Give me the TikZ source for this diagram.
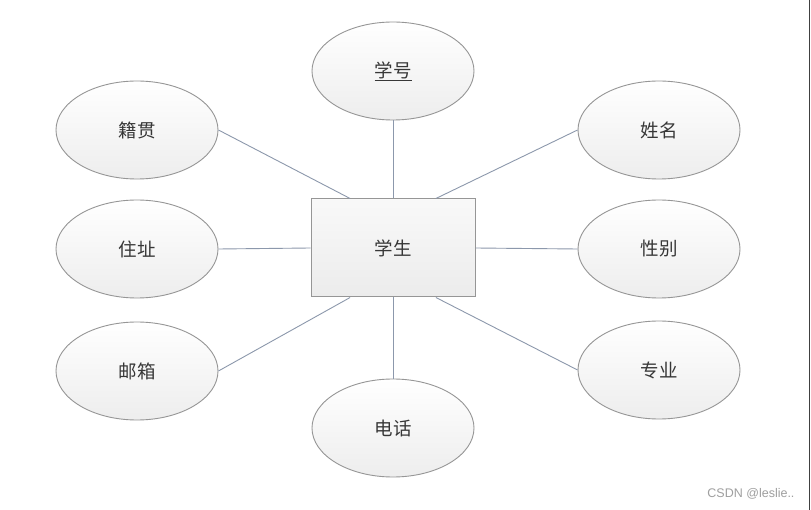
\documentclass[tikz,border=0pt]{standalone}
\usepackage{fontspec}
\setmainfont{Liberation Sans}
\newfontfamily\cjk{Noto Sans CJK SC}
\usetikzlibrary{shapes.geometric,calc}
\definecolor{edgeline}{RGB}{140,152,172}
\definecolor{txt}{RGB}{55,55,55}
\definecolor{bordergray}{RGB}{150,150,150}
\tikzset{
  attr/.style={ellipse, draw=bordergray, line width=0.9pt, top color=white, bottom color=gray!14,
    minimum width=162pt, minimum height=98pt, inner sep=0pt,
    font=\cjk\fontsize{18.5}{20}\selectfont, text=txt},
  entity/.style={rectangle, draw=bordergray, line width=1pt, top color=gray!5, bottom color=gray!15,
    minimum width=164pt, minimum height=98pt, inner sep=0pt,
    font=\cjk\fontsize{18.5}{20}\selectfont, text=txt},
  conn/.style={draw=edgeline, line width=0.9pt}
}
\begin{document}
\begin{tikzpicture}[x=1pt,y=-1pt]
\fill[white] (0,0) rectangle (811,510);
\useasboundingbox (0,0) rectangle (811,510);
\node[entity] (s) at (393,248) {学生};
\node[attr] (xh) at (393,71) {\underline{学号}};
\node[attr] (jg) at (137,130) {籍贯};
\node[attr] (xm) at (659,130) {姓名};
\node[attr] (zz) at (137,249) {住址};
\node[attr] (xb) at (659,249) {性别};
\node[attr] (yx) at (137,371) {邮箱};
\node[attr] (zy) at (659,370) {专业};
\node[attr] (dh) at (393,428) {电话};
\coordinate (tl) at ($(s.north west)!0.24!(s.north east)$);
\coordinate (tr) at ($(s.north west)!0.76!(s.north east)$);
\coordinate (bl) at ($(s.south west)!0.24!(s.south east)$);
\coordinate (br) at ($(s.south west)!0.76!(s.south east)$);
\draw[conn] (xh) -- (s);
\draw[conn] (dh) -- (s);
\draw[conn] (zz.east) -- (s.west);
\draw[conn] (xb.west) -- (s.east);
\draw[conn] (jg.east) -- (tl);
\draw[conn] (xm.west) -- (tr);
\draw[conn] (yx.east) -- (bl);
\draw[conn] (zy.west) -- (br);
\node[text=gray!75, font=\fontsize{12.5}{14}\selectfont, anchor=east] (wm) at (798,494) {CSDN @leslie..};
\draw[black!75, line width=1.2pt] (809.5,0) -- (809.5,510);
\end{tikzpicture}
\end{document}
